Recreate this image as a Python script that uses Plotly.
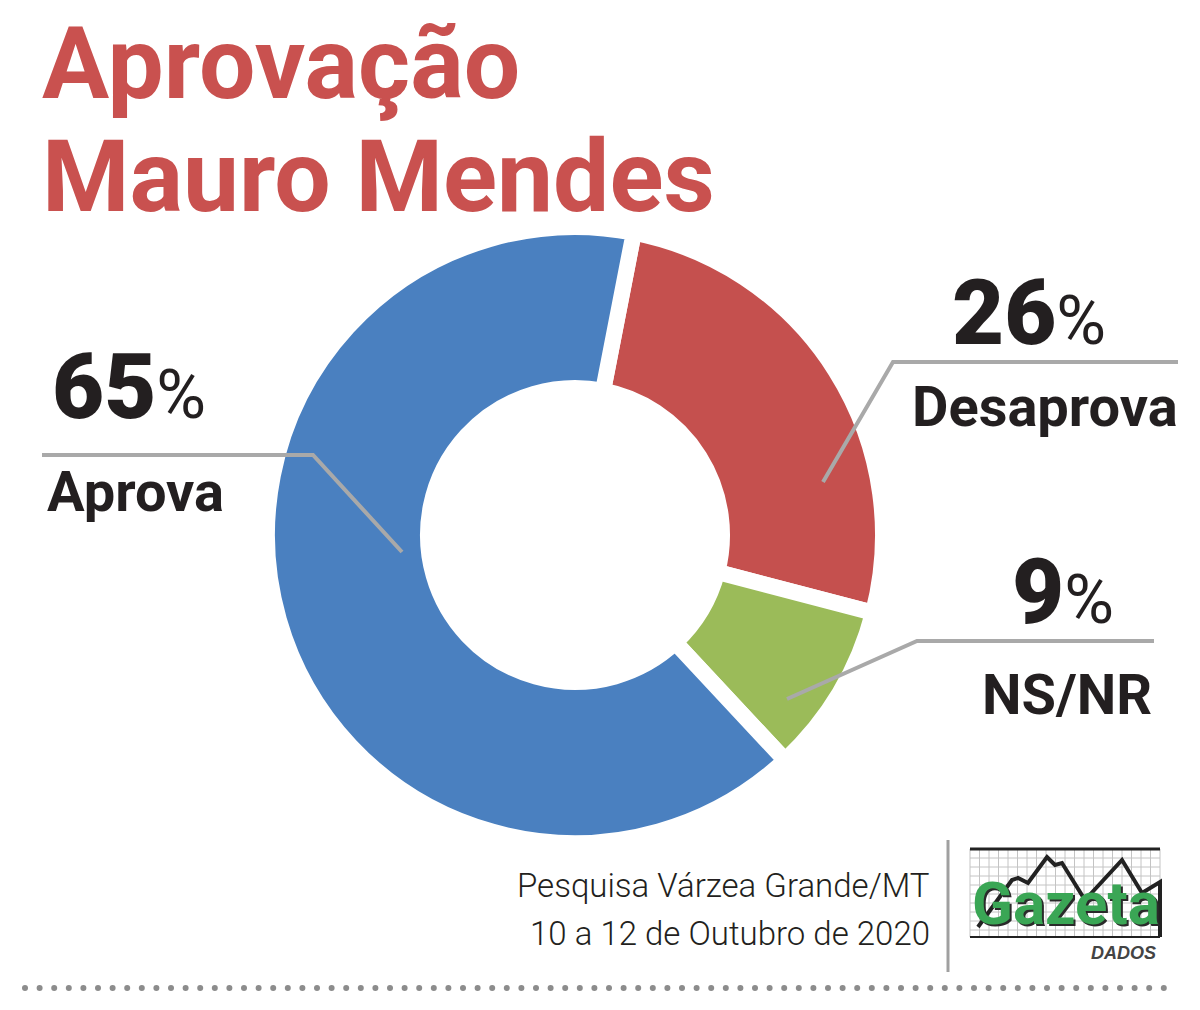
import numpy as np
import plotly.graph_objects as go

# ---- data ----
categories = ["Desaprova", "NS/NR", "Aprova"]
values = [26, 9, 65]
colors = ["#c5504e", "#9bbb59", "#4a80c0"]
title_lines = ["Aprovação", "Mauro Mendes"]
source_lines = ["Pesquisa Várzea Grande/MT", "10 a 12 de Outubro de 2020"]

W, H = 1200, 1010
TXT = "#231f20"
GRAY = "#a9a9a9"
FONT = "Roboto, 'Open Sans', sans-serif"

fig = go.Figure()

# donut (center 575,535; outer radius ~300, hole ~155, gaps as white borders)
cx, cy, R, gap = 575, 535, 308, 16
fig.add_trace(go.Pie(
    labels=categories, values=values, sort=False, direction="clockwise",
    rotation=11, hole=(155 - gap / 2) / R,
    marker=dict(colors=colors, line=dict(color="white", width=gap)),
    textinfo="none", showlegend=False,
    domain=dict(x=[(cx - R) / W, (cx + R) / W], y=[1 - (cy + R) / H, 1 - (cy - R) / H]),
))

# dotted separator at bottom
dots_x = np.arange(25, 1170, 14.6)
fig.add_trace(go.Scatter(
    x=dots_x, y=[988] * len(dots_x), mode="markers",
    marker=dict(size=6, color="#8c8c8c"), hoverinfo="skip", showlegend=False,
))

shapes = []
def seg(pts, color=GRAY, width=4):
    path = "M " + " L ".join(f"{x},{y}" for x, y in pts)
    shapes.append(dict(type="path", path=path, xref="x", yref="y",
                       line=dict(color=color, width=width)))

# leader lines
seg([(42, 455), (313, 455), (402, 552)])
seg([(823, 482), (893, 362), (1178, 362)])
seg([(787, 699), (917, 641), (1154, 641)])

# vertical separator in footer
seg([(948, 840), (948, 972)], color="#a0a0a0", width=3)

# logo: grid
for gx in np.arange(970, 1161, 9.5):
    shapes.append(dict(type="line", xref="x", yref="y", x0=gx, x1=gx, y0=849, y1=937,
                       line=dict(color="#c4c4c4", width=1)))
for gy in np.arange(849, 938, 9):
    shapes.append(dict(type="line", xref="x", yref="y", x0=970, x1=1160, y0=gy, y1=gy,
                       line=dict(color="#c4c4c4", width=1)))
shapes.append(dict(type="line", xref="x", yref="y", x0=970, x1=1160, y0=849, y1=849,
                   line=dict(color="#222222", width=3)))
seg([(978, 927), (1012, 880), (1018, 878), (1028, 883), (1047, 857), (1055, 865),
     (1062, 863), (1085, 900), (1122, 860), (1142, 893), (1160, 882), (1160, 937)],
    color="#222222", width=4)
shapes.append(dict(type="line", xref="x", yref="y", x0=970, x1=1160, y0=937, y1=937,
                   line=dict(color="#222222", width=2)))

ann = []
def txt(x, y, text, size, xanchor="left", color=TXT, weight="normal", family=FONT, **kw):
    ann.append(dict(x=x, y=y, xref="x", yref="y", text=text, showarrow=False,
                    xanchor=xanchor, yanchor="middle",
                    font=dict(size=size, color=color, family=family, weight=weight), **kw))

# title
txt(40, 63, title_lines[0], 100, color="#c9514f", weight="bold")
txt(40, 176, title_lines[1], 100, color="#c9514f", weight="bold")

def pct(v):
    return f"<span style='font-weight:900'>{v}</span><span style='font-size:68px'>%</span>"

# labels
txt(50, 387, pct(values[2]), 90)
txt(45, 492, categories[2], 56, weight="bold")
txt(1108, 313, pct(values[0]), 90, xanchor="right")
txt(1180, 407, categories[0], 56, weight="bold", xanchor="right")
txt(1116, 592, pct(values[1]), 90, xanchor="right")
txt(1154, 695, categories[1], 56, weight="bold", xanchor="right")

# source
txt(932, 885, source_lines[0], 33, xanchor="right", weight=300)
txt(932, 933, source_lines[1], 33, xanchor="right", weight=300)

# logo text
txt(1066, 903, "Gazeta", 60, xanchor="center", color="#3aa655", weight="bold")
ann[-1]["font"]["shadow"] = "2px 2px 0px #2a2a2a"
txt(1158, 953, "DADOS", 18, xanchor="right", color="#444444", weight="bold",
    family="'Liberation Sans', Arial, sans-serif")
ann[-1]["font"]["style"] = "italic"

fig.update_layout(
    width=W, height=H, margin=dict(l=0, r=0, t=0, b=0),
    paper_bgcolor="white", plot_bgcolor="rgba(0,0,0,0)",
    xaxis=dict(range=[0, W], visible=False, fixedrange=True),
    yaxis=dict(range=[H, 0], visible=False, fixedrange=True),
    shapes=shapes, annotations=ann, showlegend=False,
)

fig.write_html("out.html", config={"displayModeBar": False},
               post_script="document.body.style.margin='0';")
